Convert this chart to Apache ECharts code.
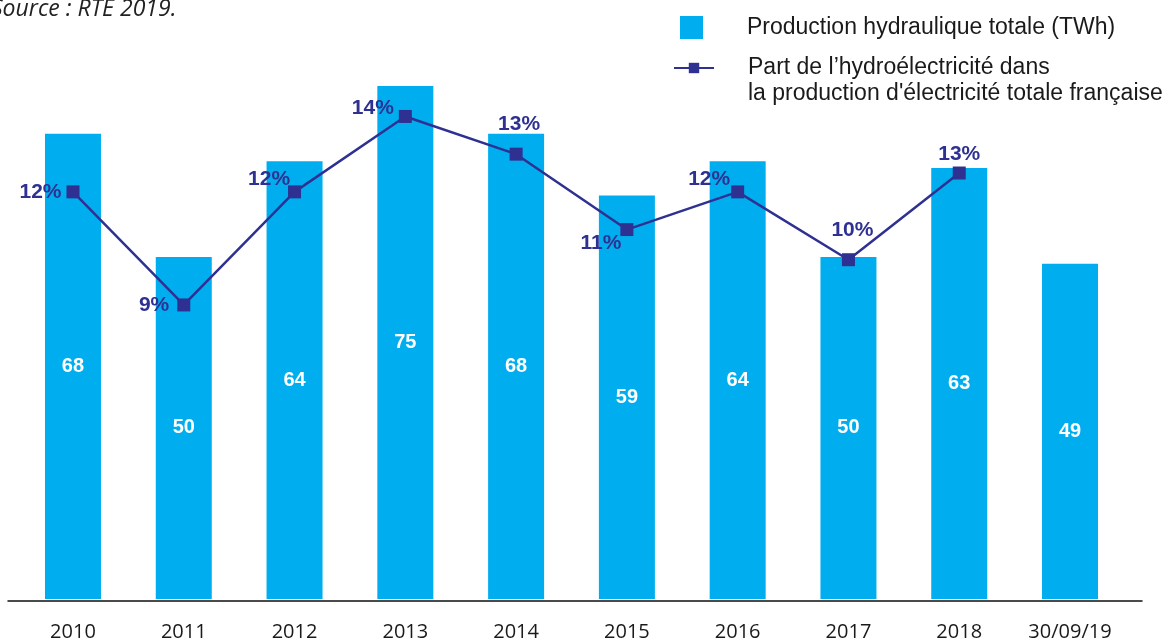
<!DOCTYPE html>
<html>
<head>
<meta charset="utf-8">
<script src="https://cdn.jsdelivr.net/npm/echarts@6/dist/echarts.min.js"></script>
<style>
  html, body { margin: 0; padding: 0; background: #fff; }
  #chart { width: 1169px; height: 642px; }
</style>
</head>
<body>
<div id="chart"></div>
<script>
// Hydro production in France and its share of total electricity output
const categories = ['2010', '2011', '2012', '2013', '2014', '2015', '2016', '2017', '2018', '30/09/19'];
const hydroTWh = [68, 50, 64, 75, 68, 59, 64, 50, 63, 49];
const hydroShare = [12, 9, 12, 14, 13, 11, 12, 10.2, 12.5, null];

const barName = 'Production hydraulique totale (TWh)';
const lineName = "Part de l\u2019hydroélectricité dans\nla production d'électricité totale française";

// where each percentage label sits around its marker
const shareLabelPlacement = [
  { position: 'left', offset: [0, 0] },
  { position: 'left', offset: [-3, 0] },
  { position: 'left', offset: [7, -13] },
  { position: 'left', offset: [0, -8] },
  { position: 'top', offset: [3, -8] },
  { position: 'left', offset: [6, 14] },
  { position: 'left', offset: [4, -13] },
  { position: 'top', offset: [4, -8] },
  { position: 'top', offset: [0, 3] },
  { position: 'top', offset: [0, 0] }
];

const NAVY = '#2E3192';
const CYAN = '#00AEEF';

const chart = echarts.init(document.getElementById('chart'), null, { renderer: 'canvas' });

chart.setOption({
  animation: false,
  backgroundColor: '#ffffff',
  title: {
    text: 'Source : RTE 2019.',
    left: -9,
    top: -2,
    padding: 0,
    textStyle: {
      fontFamily: 'Open Sans',
      fontStyle: 'italic',
      fontWeight: 'normal',
      fontSize: 23,
      color: '#222222'
    }
  },
  legend: [
    {
      data: [barName],
      left: 680,
      top: 16,
      padding: 0,
      icon: 'rect',
      itemWidth: 23,
      itemHeight: 23,
      selectedMode: false,
      textStyle: {
        fontFamily: 'Liberation Sans',
        fontSize: 23,
        color: '#1a1a1a',
        padding: [7, 0, 0, 39]
      }
    },
    {
      data: [lineName],
      left: 673,
      top: 29,
      padding: 0,
      itemWidth: 40,
      itemHeight: 13,
      selectedMode: false,
      // a blank first line keeps the icon level with the first text line
      formatter: name => '\n' + name,
      textStyle: {
        fontFamily: 'Liberation Sans',
        fontSize: 23,
        lineHeight: 26,
        color: '#1a1a1a',
        padding: [0, 0, 0, 29]
      }
    }
  ],
  grid: [
    { left: 17.6, right: 43.6, top: 75, bottom: 41 },
    { left: 8, right: 27, top: 75, bottom: 41.3 }
  ],
  xAxis: [
    {
      type: 'category',
      gridIndex: 0,
      data: categories,
      axisLine: { show: false },
      axisTick: { show: false },
      axisLabel: {
        margin: 23,
        fontFamily: 'Open Sans',
        fontSize: 20,
        color: '#1a1a1a'
      }
    },
    {
      type: 'value',
      gridIndex: 1,
      min: 0,
      max: 1,
      axisLine: { show: true, lineStyle: { color: '#111111', width: 1.5 } },
      axisTick: { show: false },
      axisLabel: { show: false },
      splitLine: { show: false }
    }
  ],
  yAxis: [
    { type: 'value', gridIndex: 0, min: 0, max: 76.6, show: false, splitLine: { show: false } },
    { type: 'value', gridIndex: 0, min: 1.2, max: 15.1, show: false, splitLine: { show: false } },
    { type: 'value', gridIndex: 1, min: 0, max: 1, show: false, splitLine: { show: false } }
  ],
  series: [
    {
      name: barName,
      type: 'bar',
      xAxisIndex: 0,
      yAxisIndex: 0,
      barWidth: 56,
      data: hydroTWh,
      itemStyle: { color: CYAN },
      label: {
        show: true,
        position: 'inside',
        color: '#ffffff',
        fontFamily: 'Liberation Sans',
        fontWeight: 'bold',
        fontSize: 20
      },
      z: 1
    },
    {
      name: lineName,
      type: 'line',
      xAxisIndex: 0,
      yAxisIndex: 1,
      data: hydroShare.map((v, i) => ({
        value: v,
        label: shareLabelPlacement[i]
      })),
      symbol: 'rect',
      symbolSize: 13,
      showAllSymbol: true,
      lineStyle: { color: NAVY, width: 2.5 },
      itemStyle: { color: NAVY },
      label: {
        show: true,
        distance: 5,
        color: NAVY,
        fontFamily: 'Liberation Sans',
        fontWeight: 'bold',
        fontSize: 21,
        formatter: p => Math.round(p.value) + '%'
      },
      z: 3
    }
  ]
});
</script>
</body>
</html>
